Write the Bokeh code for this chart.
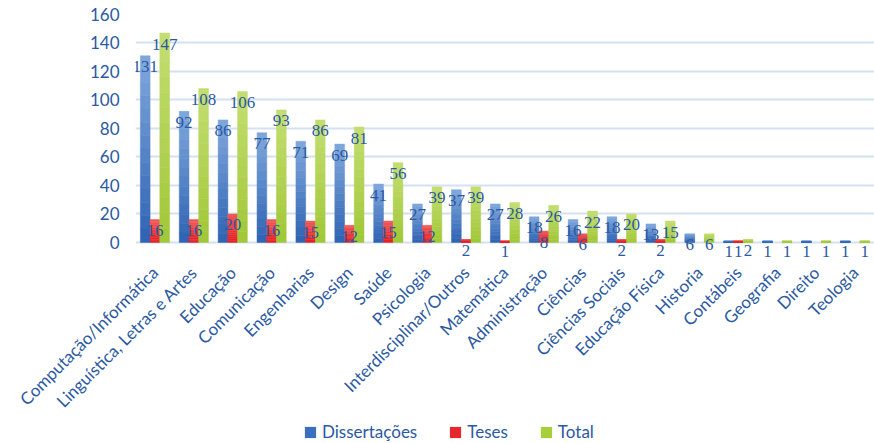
from math import pi
from bokeh.plotting import figure
from bokeh.layouts import column
from bokeh.models import ColumnDataSource, LabelSet, Legend, LegendItem, SingleIntervalTicker
from bokeh.transform import dodge
from bokeh.embed import file_html
from bokeh.resources import INLINE

categories = ["Computação/Informática", "Linguística, Letras e Artes", "Educação",
              "Comunicação", "Engenharias", "Design", "Saúde", "Psicologia",
              "Interdisciplinar/Outros", "Matemática", "Administração", "Ciências",
              "Ciências Sociais", "Educação Física", "Historia", "Contábeis",
              "Geografia", "Direito", "Teologia"]
dissertacoes = [131, 92, 86, 77, 71, 69, 41, 27, 37, 27, 18, 16, 18, 13, 6, 1, 1, 1, 1]
teses = [16, 16, 20, 16, 15, 12, 15, 12, 2, 1, 8, 6, 2, 2, 0, 1, 0, 0, 0]
total = [147, 108, 106, 93, 86, 81, 56, 39, 39, 28, 26, 22, 20, 15, 6, 2, 1, 1, 1]
series_names = ["Dissertações", "Teses", "Total"]
y_ticks_step = 20

FONT = "Lato"
TXT = "#2B59A3"
GRID = "#D5E1F1"
# (top colour, bottom colour) of each series' gradient
grads = [((0x80, 0xA8, 0xDD), (0x2E, 0x63, 0xB2)),
         ((0xF0, 0x5A, 0x5B), (0xE2, 0x20, 0x24)),
         ((0xC4, 0xDE, 0x72), (0xA0, 0xC7, 0x36))]
legend_colors = ["#3A6FBE", "#E5282D", "#A8CE3A"]
offsets = [-0.25, 0.0, 0.25]
series = [dissertacoes, teses, total]
NSEG = 14


def hexc(rgb):
    return "#%02x%02x%02x" % tuple(int(round(c)) for c in rgb)


p = figure(x_range=categories, y_range=(-12, 160), width=874, height=421,
           output_backend="svg", toolbar_location=None,
           min_border_left=135, min_border_right=0, min_border_top=14,
           min_border_bottom=161)
p.outline_line_color = None
p.background_fill_color = "white"
p.border_fill_color = "white"

for vals, off, (ct, cb) in zip(series, offsets, grads):
    cats, bots, tops, cols = [], [], [], []
    for c, v in zip(categories, vals):
        if v <= 0:
            continue
        for i in range(NSEG):
            f0 = i / NSEG
            f1 = (i + 1) / NSEG
            cats.append(c)
            tops.append(v * (1 - f0))
            bots.append(v * (1 - f1))
            t = (f0 + f1) / 2
            cols.append(hexc([a + (b - a) * t for a, b in zip(ct, cb)]))
    s = ColumnDataSource(dict(cat=cats, top=tops, bottom=bots, color=cols))
    p.vbar(x=dodge("cat", off, range=p.x_range), top="top", bottom="bottom", width=0.25,
           source=s, fill_color="color", line_color="color", line_width=0.5)

# data labels
for vals, off in zip(series, offsets):
    cats = [c for c, v in zip(categories, vals) if v > 0]
    vs = [v for v in vals if v > 0]
    ls = ColumnDataSource(dict(cat=cats, v=vs, s=[str(v) for v in vs]))
    lab = LabelSet(x=dodge("cat", off, range=p.x_range), y="v", text="s", source=ls,
                   text_align="center", text_baseline="middle", y_offset=-11,
                   text_font=FONT, text_font_size="17px", text_color=TXT)
    p.add_layout(lab)

p.yaxis.ticker = SingleIntervalTicker(interval=y_ticks_step)
p.yaxis.axis_line_color = None
p.yaxis.major_tick_line_color = None
p.yaxis.minor_tick_line_color = None
p.yaxis.major_label_text_font = FONT
p.yaxis.major_label_text_font_size = "17px"
p.yaxis.major_label_text_color = TXT
p.yaxis.major_label_standoff = 10

p.xaxis.axis_line_color = None
p.xaxis.major_tick_line_color = None
p.xaxis.minor_tick_line_color = None
p.xaxis.major_label_orientation = pi / 4
p.xaxis.major_label_text_font = FONT
p.xaxis.major_label_text_font_size = "17px"
p.xaxis.major_label_text_color = TXT
p.xaxis.major_label_standoff = 4

p.xgrid.grid_line_color = None
p.ygrid.ticker = SingleIntervalTicker(interval=y_ticks_step)
p.ygrid.grid_line_color = GRID
p.ygrid.grid_line_width = 2
p.ygrid.level = "underlay"

# legend strip
pl = figure(width=874, height=22, x_range=(0, 1), y_range=(0, 1),
            output_backend="svg", toolbar_location=None,
            min_border=0)
pl.axis.visible = False
pl.grid.visible = False
pl.outline_line_color = None
dummy = ColumnDataSource(dict(x=[-5], top=[-5]))
lrs = [pl.vbar(x="x", top="top", width=0.1, source=dummy, fill_color=c, line_color=None)
       for c in legend_colors]
legend = Legend(items=[LegendItem(label=n, renderers=[r]) for n, r in zip(series_names, lrs)],
                orientation="horizontal", location=(168, 1),
                label_text_font=FONT, label_text_font_size="17px", label_text_color=TXT,
                glyph_width=14, glyph_height=14, spacing=31, label_standoff=5,
                border_line_color=None, background_fill_alpha=0, margin=0, padding=2)
pl.add_layout(legend, "center")

open("out.html", "w").write(file_html(column(p, pl, spacing=0), INLINE))
